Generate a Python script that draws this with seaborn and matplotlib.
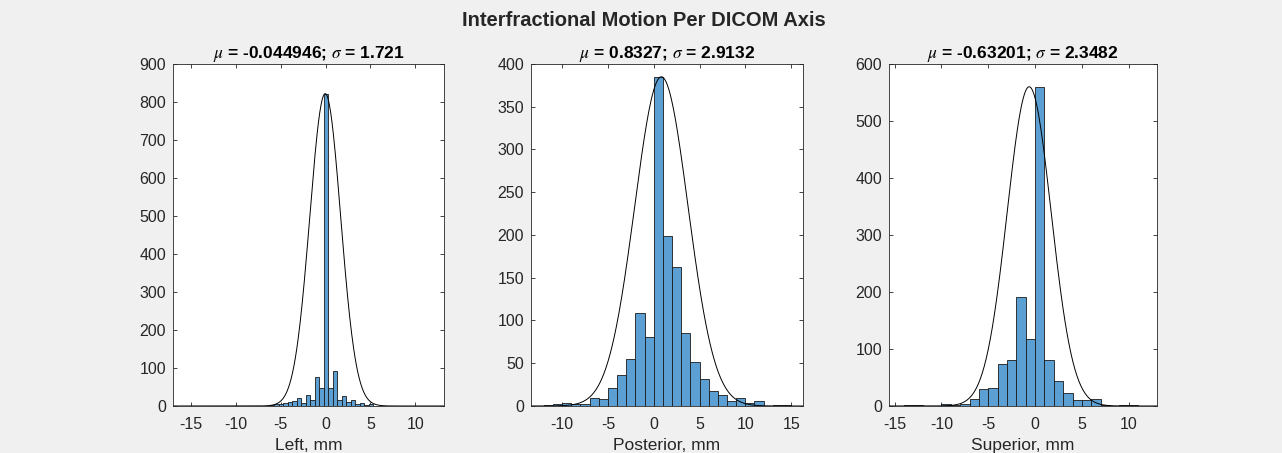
import numpy as np
import pandas as pd
import matplotlib
matplotlib.use('Agg')
import matplotlib.pyplot as plt
import seaborn as sns

# --- Data ---
# Left axis: 0.5 mm bins starting at -15.2
left_start = -15.2
left_bin_width = 0.5
left_counts = [1, 0, 0, 0, 0, 0, 0, 0, 0, 0, 1, 0, 0, 0, 0, 0,
               1, 1, 2, 4, 6, 8, 10, 13, 20, 8, 28, 16, 77, 48,
               822, 46, 93, 17, 25, 10, 16, 5, 7, 2, 6, 1, 1,
               0, 0, 0, 0, 0, 0, 0, 0, 0, 1]

# Posterior axis: 1 mm bins from -12 to 15
post_start = -12
post_bin_width = 1.0
post_counts = [1, 2, 4, 2, 2, 9, 8, 21, 36, 55, 109, 81,
               385, 199, 162, 85, 52, 32, 18, 13, 6, 9, 4, 6, 0, 1, 1]

# Superior axis: 1 mm bins from -14 to 11
sup_start = -14
sup_bin_width = 1.0
sup_counts = [1, 1, 0, 0, 4, 2, 3, 12, 29, 31, 74, 81, 192, 118,
              560, 81, 44, 23, 11, 11, 12, 2, 0, 1, 1]

mus = [-0.044946, 0.8327, -0.63201]
sigmas = [1.721, 2.9132, 2.3482]
xlabels = ['Left, mm', 'Posterior, mm', 'Superior, mm']
titles = [r'$\mu$ = -0.044946; $\sigma$ = 1.721',
          r'$\mu$ = 0.8327; $\sigma$ = 2.9132',
          r'$\mu$ = -0.63201; $\sigma$ = 2.3482']
xlims = [(-17.0, 13.2), (-13.4, 16.3), (-15.6, 13.0)]
xticks = [[-15, -10, -5, 0, 5, 10], [-10, -5, 0, 5, 10, 15], [-15, -10, -5, 0, 5, 10]]
ylims = [900, 400, 600]
ysteps = [100, 50, 100]

sets = [(left_start, left_bin_width, left_counts),
        (post_start, post_bin_width, post_counts),
        (sup_start, sup_bin_width, sup_counts)]

# --- Style ---
sns.set_theme(style='white')
plt.rcParams['font.family'] = ['Liberation Sans', 'DejaVu Sans']
plt.rcParams['mathtext.fontset'] = 'stix'
plt.rcParams['axes.unicode_minus'] = False
BG = '#f0f0f0'
AXC = '#262626'
BAR = '#5ca0d3'

fig = plt.figure(figsize=(12.82, 4.53), dpi=100, facecolor=BG)
positions = [(0.135, 0.1038, 0.2114, 0.755),
             (0.4142, 0.1038, 0.2122, 0.755),
             (0.6934, 0.1038, 0.2090, 0.755)]

for i in range(3):
    ax = fig.add_axes(positions[i])
    start, bw, counts = sets[i]
    counts = np.array(counts, dtype=float)
    edges = start + bw * np.arange(len(counts) + 1)
    df = pd.DataFrame({'x': (edges[:-1] + edges[1:]) / 2, 'n': counts})
    sns.histplot(data=df, x='x', weights='n', bins=[float(e) for e in edges], ax=ax,
                 color=BAR, alpha=1.0, edgecolor='#1a1a1a', linewidth=0.6)
    # normal curve scaled to the tallest bar
    xs = np.linspace(xlims[i][0], xlims[i][1], 400)
    ys = counts.max() * np.exp(-(xs - mus[i]) ** 2 / (2 * sigmas[i] ** 2))
    sns.lineplot(x=xs, y=ys, ax=ax, color='black', linewidth=0.7)

    ax.set_xlim(*xlims[i])
    ax.set_ylim(0, ylims[i])
    ax.set_xticks(xticks[i])
    ax.set_yticks(np.arange(0, ylims[i] + 1, ysteps[i]))
    ax.set_xlabel(xlabels[i], fontsize=12.5, color=AXC, labelpad=4)
    ax.set_ylabel('')
    ax.set_title(titles[i], fontsize=12.5, fontweight='bold', color='black', pad=4)
    ax.tick_params(direction='in', length=3, width=0.6, colors=AXC,
                   labelsize=11.5, top=True, right=True, bottom=True, left=True,
                   labelcolor=AXC)
    ax.tick_params(axis='x', pad=8)
    ax.tick_params(axis='y', pad=5)
    for s in ax.spines.values():
        s.set_color(AXC)
        s.set_linewidth(0.6)
    ax.set_facecolor('white')

fig.suptitle('Interfractional Motion Per DICOM Axis', fontsize=14.5,
             fontweight='bold', y=0.975, x=0.502)

fig.savefig('out.png', dpi=100, facecolor=BG)
